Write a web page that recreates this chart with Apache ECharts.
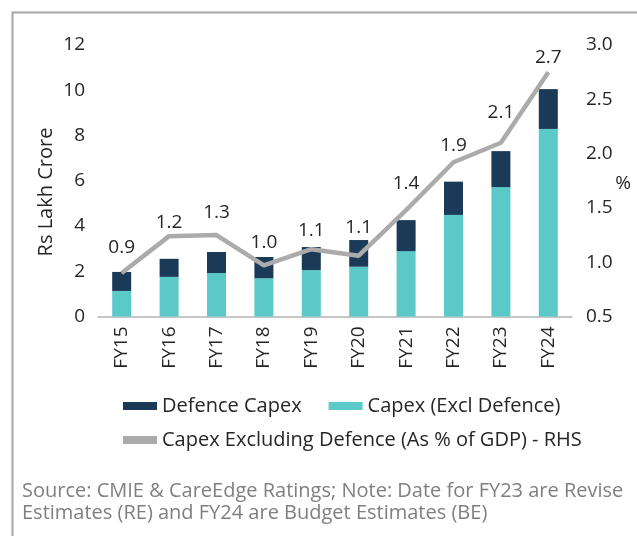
<!DOCTYPE html>
<html>
<head>
<meta charset="utf-8">
<title>Capex</title>
<script src="https://cdn.jsdelivr.net/npm/echarts@6/dist/echarts.min.js"></script>
<style>
  html, body { margin: 0; padding: 0; background: #fff; }
  #chart { width: 637px; height: 536px; }
</style>
</head>
<body>
<div id="chart"></div>
<script>
// data
var categories = ['FY15', 'FY16', 'FY17', 'FY18', 'FY19', 'FY20', 'FY21', 'FY22', 'FY23', 'FY24'];
var defenceCapex = [0.84, 0.80, 0.93, 0.94, 1.02, 1.18, 1.37, 1.47, 1.59, 1.76];
var capexExclDefence = [1.13, 1.75, 1.92, 1.69, 2.05, 2.20, 2.89, 4.49, 5.72, 8.29];
var capexGdpShare = [0.90, 1.24, 1.25, 0.97, 1.12, 1.06, 1.48, 1.92, 2.10, 2.75];
var capexGdpLabels = ['0.9', '1.2', '1.3', '1.0', '1.1', '1.1', '1.4', '1.9', '2.1', '2.7'];
var leftAxisRange = [0, 12, 2];
var rightAxisRange = [0.5, 3.0, 0.5];
var seriesNames = ['Defence Capex', 'Capex (Excl Defence)', 'Capex Excluding Defence (As % of GDP) - RHS'];

var FONT = '"Open Sans", "Noto Sans", sans-serif';
var TEXT = '#262626';
// label lift above each point (labels were hand placed in the original)
var labelLift = [15, 4, 12, 13, 9, 18, 16, 7, 20, 5];

var chart = echarts.init(document.getElementById('chart'));

var lineData = [];
for (var i = 0; i < capexGdpShare.length; i++) {
  lineData.push({
    value: capexGdpShare[i],
    label: { distance: labelLift[i] }
  });
}

var option = {
  animation: false,
  textStyle: { fontFamily: FONT },
  grid: { left: 98, right: 65, top: 45, bottom: 219.5 },
  legend: [
    {
      data: [seriesNames[0], seriesNames[1]],
      left: 123, top: 396, padding: 0,
      icon: 'rect', itemWidth: 34, itemHeight: 8, itemGap: 27,
      textStyle: { fontSize: 20, color: TEXT, fontFamily: FONT }
    },
    {
      data: [seriesNames[2]],
      left: 123, top: 430, padding: 0,
      icon: 'rect', itemWidth: 34, itemHeight: 8,
      textStyle: { fontSize: 20, color: TEXT, fontFamily: FONT }
    }
  ],
  xAxis: {
    type: 'category',
    data: categories,
    axisLine: { lineStyle: { color: '#b4b4b4', width: 1.5 } },
    axisTick: { show: false },
    axisLabel: {
      rotate: 90, margin: 10, fontSize: 19, color: TEXT, fontFamily: FONT,
      padding: [10, 0, 0, 0]
    }
  },
  yAxis: [
    {
      type: 'value',
      min: leftAxisRange[0], max: leftAxisRange[1], interval: leftAxisRange[2],
      splitLine: { show: false },
      axisLine: { show: false },
      axisLabel: { margin: 13, fontSize: 19, color: TEXT, fontFamily: FONT }
    },
    {
      type: 'value',
      min: rightAxisRange[0], max: rightAxisRange[1], interval: rightAxisRange[2],
      splitLine: { show: false },
      axisLine: { show: false },
      axisLabel: {
        margin: 14, fontSize: 19, color: TEXT, fontFamily: FONT,
        formatter: function (v) { return v.toFixed(1); }
      }
    }
  ],
  series: [
    {
      name: seriesNames[1],
      type: 'bar', stack: 'capex', barWidth: 19,
      itemStyle: { color: '#5bc9c8' },
      data: capexExclDefence
    },
    {
      name: seriesNames[0],
      type: 'bar', stack: 'capex', barWidth: 19,
      itemStyle: { color: '#1b3a57' },
      data: defenceCapex
    },
    {
      name: seriesNames[2],
      type: 'line', yAxisIndex: 1,
      symbol: 'circle', symbolSize: 1, showSymbol: true,
      itemStyle: { color: '#ababab' },
      lineStyle: { color: '#ababab', width: 4.5 },
      label: {
        show: true, position: 'top', fontSize: 19, color: TEXT, fontFamily: FONT,
        formatter: function (p) { return capexGdpLabels[p.dataIndex]; }
      },
      z: 5,
      data: lineData
    }
  ],
  graphic: [
    {
      type: 'rect', silent: true,
      shape: { x: 12.5, y: 12.5, width: 700, height: 600 },
      style: { fill: 'none', stroke: '#a6a6a6', lineWidth: 2 }
    },
    {
      type: 'text', x: 46, y: 192, rotation: Math.PI / 2,
      style: { text: 'Rs Lakh Crore', fontSize: 20, fill: TEXT, fontFamily: FONT, align: 'center', verticalAlign: 'middle' }
    },
    {
      type: 'text', x: 623, y: 184,
      style: { text: '%', fontSize: 19, fill: TEXT, fontFamily: FONT, align: 'center', verticalAlign: 'middle' }
    },
    {
      type: 'text', x: 22, y: 480,
      style: {
        text: 'Source: CMIE & CareEdge Ratings; Note: Date for FY23 are Revise\nEstimates (RE) and FY24 are Budget Estimates (BE)',
        fontSize: 20, lineHeight: 22, fill: '#7f7f7f', fontFamily: FONT
      }
    }
  ]
};

chart.setOption(option);
</script>
</body>
</html>
